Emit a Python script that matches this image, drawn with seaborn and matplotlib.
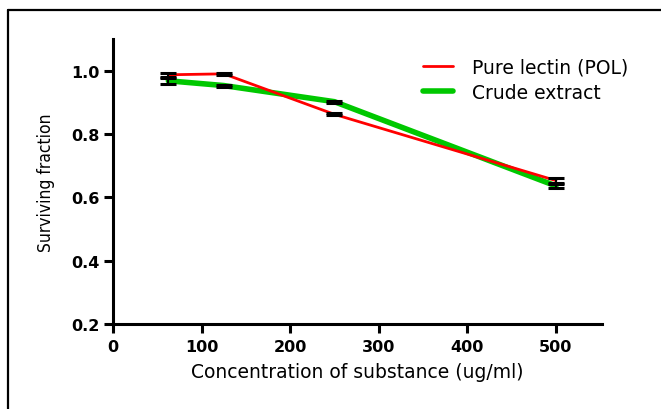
import matplotlib
matplotlib.use("Agg")
import matplotlib.pyplot as plt
import seaborn as sns
import pandas as pd
from matplotlib.lines import Line2D
from matplotlib.ticker import FixedLocator, FuncFormatter

concentration = [62.5, 125, 250, 500]
pure_lectin = [0.987, 0.990, 0.862, 0.653]
pure_err = [0.007, 0.003, 0.003, 0.008]
crude_extract = [0.968, 0.953, 0.902, 0.636]
crude_err = [0.010, 0.003, 0.003, 0.006]
series_names = ["Pure lectin (POL)", "Crude extract"]
x_ticks = [0, 100, 200, 300, 400, 500]
y_ticks = [0.2, 0.4, 0.6, 0.8, 1.0]

sns.set_style("white")
plt.rcParams['font.family'] = ['DejaVu Sans']
plt.rcParams['text.color'] = 'black'
plt.rcParams['axes.labelcolor'] = 'black'
plt.rcParams['xtick.color'] = 'black'
plt.rcParams['ytick.color'] = 'black'

df = pd.DataFrame({
    "conc": concentration * 2,
    "val": pure_lectin + crude_extract,
    "series": [series_names[0]] * 4 + [series_names[1]] * 4,
})

fig = plt.figure(figsize=(6.61, 4.10), dpi=100)
ax = fig.add_axes([113/661, (410-325)/410, (602-113)/661, (325-40)/410])

palette = {series_names[0]: "#ff0000", series_names[1]: "#00c800"}
sns.lineplot(data=df[df.series == series_names[0]], x="conc", y="val", color=palette[series_names[0]],
             lw=2, ax=ax, label=series_names[0], zorder=3)
sns.lineplot(data=df[df.series == series_names[1]], x="conc", y="val", color=palette[series_names[1]],
             lw=4, ax=ax, label=series_names[1], zorder=2)
ax.errorbar(concentration, pure_lectin, yerr=pure_err, fmt='none', ecolor='black',
            elinewidth=1.5, capsize=6, capthick=2.2, zorder=4)
ax.errorbar(concentration, crude_extract, yerr=crude_err, fmt='none', ecolor='black',
            elinewidth=1.5, capsize=6, capthick=2.2, zorder=4)

ax.set_xlim(0, 552)
ax.set_ylim(0.2, 1.1)
ax.xaxis.set_major_locator(FixedLocator(x_ticks))
ax.yaxis.set_major_locator(FixedLocator(y_ticks))
ax.xaxis.set_major_formatter(FuncFormatter(lambda v, p: f"{v:.0f}"))
ax.yaxis.set_major_formatter(FuncFormatter(lambda v, p: f"{v:.1f}"))
for s in ["top", "right"]:
    ax.spines[s].set_visible(False)
for s in ["left", "bottom"]:
    ax.spines[s].set_linewidth(2.2)
    ax.spines[s].set_color('black')
ax.tick_params(axis='both', which='major', direction='out', length=6.5, width=2.2,
               color='black', labelcolor='black', labelsize=11.5, bottom=True, left=True)
ax.tick_params(axis='y', pad=3)
ax.tick_params(axis='x', pad=4)
for lbl in ax.get_xticklabels() + ax.get_yticklabels():
    lbl.set_fontweight('bold')

ax.set_xlabel("Concentration of substance (ug/ml)", fontsize=13.5, labelpad=6)
ax.set_ylabel("Surviving fraction", fontsize=12.5, family=['Liberation Sans Narrow', 'DejaVu Sans'],
              fontstretch='condensed', labelpad=12)

leg = ax.legend(loc='upper left', bbox_to_anchor=(0.6, 0.995), frameon=False, fontsize=13.5,
                handlelength=1.6, handletextpad=1.0, labelspacing=0.35)

# figure frame
fig.add_artist(Line2D([8/661, 8/661], [0, 1 - 11/410], transform=fig.transFigure, color='black', lw=1.6))
fig.add_artist(Line2D([8/661, 1], [1 - 11/410, 1 - 11/410], transform=fig.transFigure, color='black', lw=1.6))

fig.savefig("out.png", dpi=100)
